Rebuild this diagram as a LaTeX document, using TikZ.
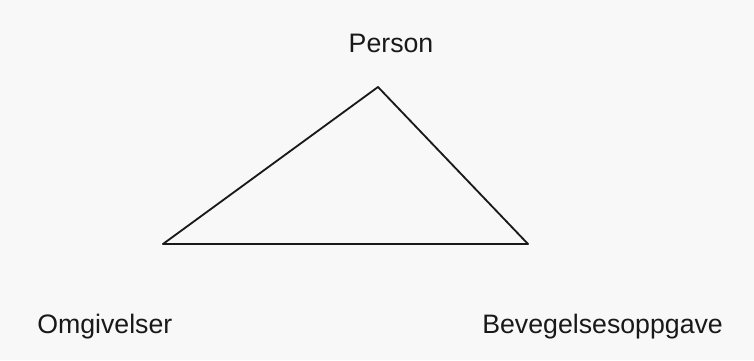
\documentclass[tikz,border=0pt]{standalone}
\usepackage{fontspec}
\setmainfont{Liberation Sans}
\usepackage{tikz}
\usetikzlibrary{positioning}
\usepackage{xcolor}
\definecolor{paperbg}{RGB}{248,248,248}
\definecolor{ink}{RGB}{25,25,25}

\begin{document}
\begin{tikzpicture}[
  corner/.style={text=ink,font=\fontsize{19}{23}\selectfont,inner sep=0pt},
  side/.style={draw=ink,line width=1.3pt,line cap=round}]
\fill[paperbg] (0,0) rectangle (18.85,9);
\useasboundingbox (0,0) rectangle (18.85,9);
% triangle corners
\coordinate (top) at (9.45,6.825);
\coordinate (lft) at (4.075,2.9);
\coordinate (rgt) at (13.2,2.9);
\draw[side] (lft) -- (top);
\draw[side] (top) -- (rgt);
\draw[side] (lft) -- (rgt);
% labels
\node[corner,anchor=base] (person) at (9.775,7.675) {Person};
\node[corner,anchor=base west] (omgiv) at (0.925,0.675) {Omgivelser};
\node[corner,anchor=base west] (oppgave) at (12.05,0.675) {Bevegelsesoppgave};
\end{tikzpicture}
\end{document}
